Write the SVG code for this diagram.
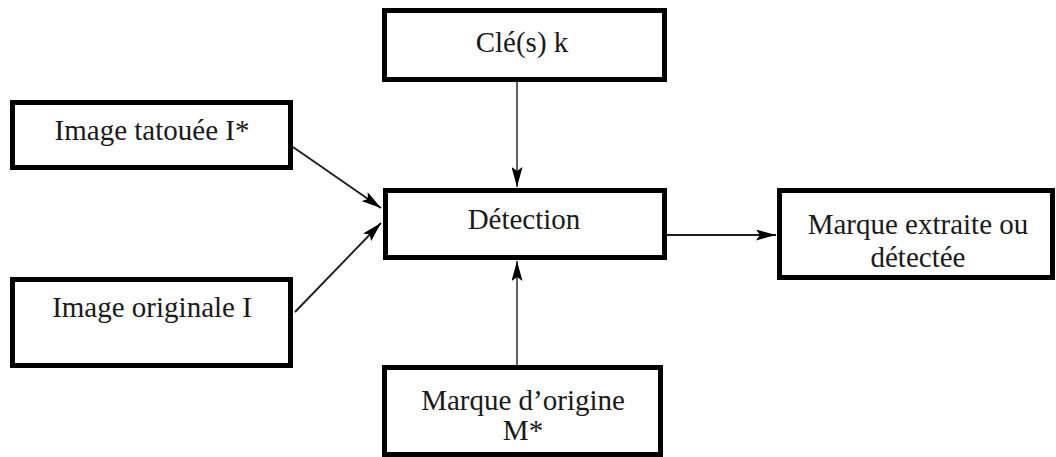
<svg xmlns="http://www.w3.org/2000/svg" width="1056" height="457" viewBox="0 0 1056 457">
  <style>
    .box { fill: #ffffff; stroke: #000000; stroke-width: 5; }
    .lbl { font-family: "Liberation Serif", "Times New Roman", serif; font-size: 29px; fill: #1a1a1a; text-anchor: middle; }
    .edge { fill: none; stroke: #3a3a3a; stroke-width: 1.6; }
    .edge.dark { stroke: #1e1e1e; stroke-width: 1.9; }
  </style>
  <defs>
    <marker id="arrow" viewBox="0 0 20 11" refX="20" refY="5.5" markerWidth="20" markerHeight="11" markerUnits="userSpaceOnUse" orient="auto">
      <path d="M0,0 L20,5.5 L0,11 L4,5.5 Z" fill="#000000"/>
    </marker>
  </defs>
  <rect width="1056" height="457" fill="#ffffff"/>

  <g id="connectors">
    <line class="edge" x1="517" y1="82" x2="517" y2="187" marker-end="url(#arrow)"/>
    <line class="edge" x1="517" y1="365" x2="517" y2="261" marker-end="url(#arrow)"/>
    <line class="edge dark" x1="667" y1="235" x2="776" y2="235" marker-end="url(#arrow)"/>
    <line class="edge dark" x1="293" y1="147" x2="381" y2="208" marker-end="url(#arrow)"/>
    <line class="edge dark" x1="295" y1="312" x2="381" y2="223" marker-end="url(#arrow)"/>
  </g>

  <g id="node-cles">
    <rect class="box" x="384.5" y="10.5" width="280" height="69"/>
    <text class="lbl" x="522" y="52">Clé(s) k</text>
  </g>

  <g id="node-image-tatouee">
    <rect class="box" x="12.5" y="102.5" width="278" height="65"/>
    <text class="lbl" x="152" y="140">Image tatouée I*</text>
  </g>

  <g id="node-image-originale">
    <rect class="box" x="12.5" y="279.5" width="278" height="86"/>
    <text class="lbl" x="152" y="317">Image originale I</text>
  </g>

  <g id="node-detection">
    <rect class="box" x="385.5" y="190.5" width="279" height="67"/>
    <text class="lbl" x="524" y="229">Détection</text>
  </g>

  <g id="node-marque-extraite">
    <rect class="box" x="779.5" y="190.5" width="273" height="87"/>
    <text class="lbl" x="918" y="234">Marque extraite ou</text>
    <text class="lbl" x="918" y="267">détectée</text>
  </g>

  <g id="node-marque-origine">
    <rect class="box" x="384.5" y="367.5" width="276" height="87"/>
    <text class="lbl" x="523" y="410">Marque d’origine</text>
    <text class="lbl" x="523" y="440">M*</text>
  </g>
</svg>
